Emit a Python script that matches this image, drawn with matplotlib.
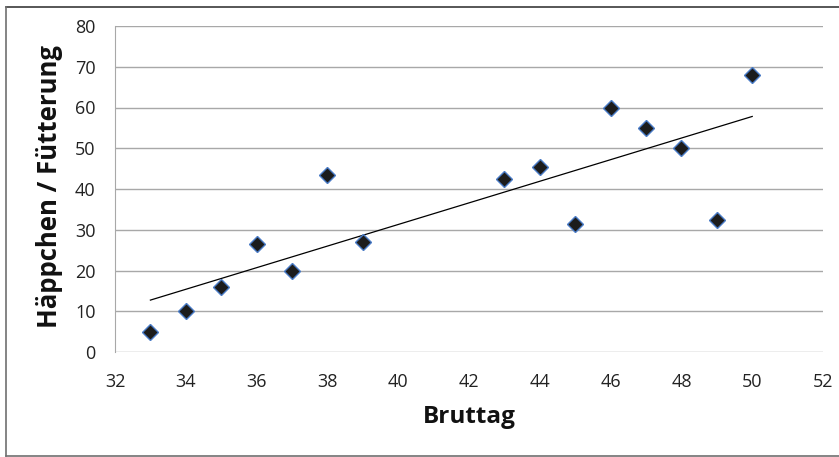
import numpy as np
import matplotlib.pyplot as plt
from matplotlib.lines import Line2D

# Daten
bruttag = [33, 34, 35, 36, 37, 38, 39, 43, 44, 45, 46, 47, 48, 49, 50]
haeppchen = [5, 10, 16, 26.5, 20, 43.5, 27, 42.5, 45.5, 31.5, 60, 55, 50, 32.5, 68]

x_ticks = [32, 34, 36, 38, 40, 42, 44, 46, 48, 50, 52]
y_ticks = [0, 10, 20, 30, 40, 50, 60, 70, 80]

plt.rcParams['font.family'] = ['Open Sans', 'DejaVu Sans']

fig = plt.figure(figsize=(8.39, 4.57), dpi=100)
ax = fig.add_axes([115 / 839, 1 - 352 / 457, (823 - 115) / 839, (352 - 26) / 457])

# lineare Trendlinie
k, d = np.polyfit(bruttag, haeppchen, 1)
xs = np.array([min(bruttag), max(bruttag)])
ax.plot(xs, k * xs + d, color='black', linewidth=0.9, zorder=2)

ax.plot(bruttag, haeppchen, linestyle='none', marker='D', markersize=8.5,
        markerfacecolor='#1c1c1c', markeredgecolor='#4a7cc7', markeredgewidth=1.0, zorder=3)

ax.set_xlim(32, 52)
ax.set_ylim(0, 80)
ax.set_xticks(x_ticks)
ax.set_yticks(y_ticks)
ax.tick_params(axis='both', length=0, labelsize=13, colors='#222222')
ax.tick_params(axis='x', pad=15)
ax.tick_params(axis='y', pad=14)
ax.grid(axis='y', color='#a8a8a8', linewidth=1.0)
ax.set_axisbelow(True)
for side in ['top', 'right', 'bottom']:
    ax.spines[side].set_visible(False)
ax.spines['left'].set_color('#a8a8a8')

fig.text(469 / 839, 1 - 417 / 457, 'Bruttag', ha='center', va='center',
         fontsize=17.5, fontweight='bold', color='#111111')
fig.text(50 / 839, 1 - 186 / 457, 'Häppchen / Fütterung', ha='center', va='center',
         rotation=90, fontsize=18.5, fontweight='bold', color='#111111')

# Rahmen um das Diagramm
c = '#3a3a3a'
fig.add_artist(Line2D([6 / 839, 1.0], [1 - 6.5 / 457] * 2, color=c, linewidth=1.2))
fig.add_artist(Line2D([6 / 839, 1.0], [1 - 455.5 / 457] * 2, color='#707070', linewidth=1.2))
fig.add_artist(Line2D([6 / 839] * 2, [1 - 6.5 / 457, 1 - 455.5 / 457], color='#707070', linewidth=1.2))

fig.savefig('out.png', dpi=100)
